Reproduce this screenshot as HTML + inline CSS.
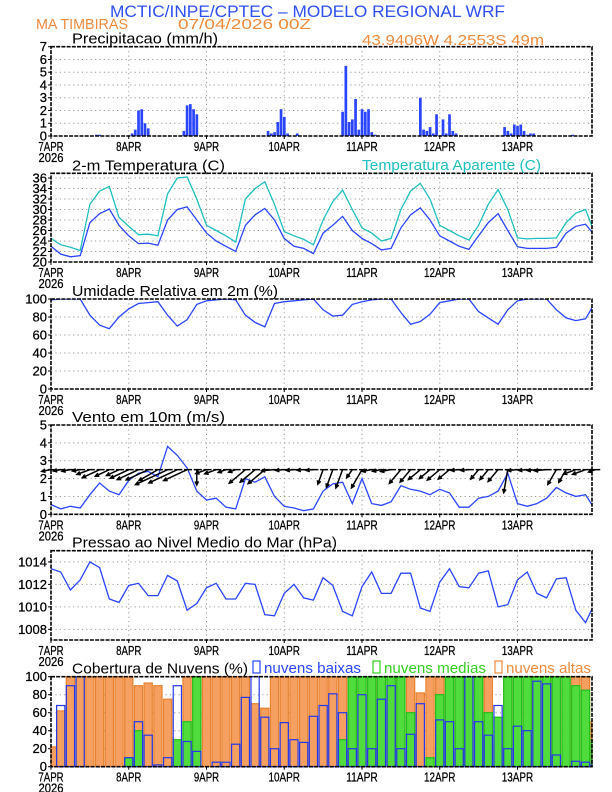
<!DOCTYPE html>
<html><head><meta charset="utf-8"><title>Meteograma WRF</title>
<style>
html,body{margin:0;padding:0;background:#fff;}
svg{display:block;font-family:"Liberation Sans",sans-serif;}
</style></head>
<body>
<svg id="chart" width="612" height="792" viewBox="0 0 612 792" xmlns="http://www.w3.org/2000/svg">
<rect x="0" y="0" width="612" height="792" fill="#fff"/>
<text x="110" y="17" font-size="17" fill="#2f4ff0" textLength="395" lengthAdjust="spacingAndGlyphs">MCTIC/INPE/CPTEC – MODELO REGIONAL WRF</text>
<text x="36" y="29" font-size="15" fill="#f08a3c" textLength="92" lengthAdjust="spacingAndGlyphs">MA TIMBIRAS</text>
<text x="178" y="29" font-size="15" fill="#f08a3c" textLength="133" lengthAdjust="spacingAndGlyphs">07/04/2026 00Z</text>
<text x="362" y="45" font-size="15" fill="#f08a3c" textLength="182" lengthAdjust="spacingAndGlyphs">43.9406W 4.2553S 49m</text>
<g id="plots"></g>
</svg>
<script>
// ---- data ----
const dayLabels = ["7APR","8APR","9APR","10APR","11APR","12APR","13APR"];
const precipHours = [14,15,25,26,27,28,29,30,41,42,43,44,45,67,68,69,70,71,72,73,76,90,91,92,93,94,95,96,97,98,99,100,114,115,116,117,118,119,121,122,123,124,125,140,141,142,143,144,145,146,147,148,149,161];
const precipVals  = [0.1,0.1,0.2,0.5,2.0,2.1,1.0,0.6,0.4,2.4,2.5,2.1,1.7,0.4,0.2,0.3,1.1,2.1,1.5,0.2,0.2,1.9,5.5,1.1,1.3,2.9,0.5,2.1,1.9,2.1,0.3,0.1,3.0,0.5,0.4,0.7,0.2,1.7,1.3,0.2,1.7,0.4,0.2,0.7,0.4,0.2,0.9,0.8,0.9,0.4,0.1,0.2,0.2,0.1];
const temp2m = [23,21.5,21.0,21.2,27.5,29.2,30.1,27,25,23.5,23.6,23.2,28,30,30.5,28,25.5,24,23,22,27,29,30.2,28,24.5,23,22.6,21.6,25.5,27,28.7,26,24.5,23.5,22.3,22.6,26.5,29,30.3,28,25,24,23,22.4,25,27.5,29.2,26,22.9,22.6,22.6,22.6,22.8,25.5,26.8,27.2,25,23.3];
const tempAparente = [24.5,23.3,22.8,22.2,31,33.5,34.4,28.5,26.8,25.2,25.3,25.0,33,36,36.2,32,27,26,25,23.8,32,34,35.3,31,25.8,25,24.3,23.3,28,31.5,33.7,30,26.5,25.5,24,24.5,30,33.5,35,32,27,26,25,24.2,27,31,33.8,30,24.6,24.4,24.5,24.5,24.6,27.5,29.3,30,25.3];
const umidade = [99,100,100,100,82,71,67,80,89,95,96,97,82,70,77,94,98,99,100,99,82,74,69,95,97,98,99,100,88,81,82,94,97,99,100,100,85,72,75,83,96,98,100,100,86,79,72,88,98,100,100,100,88,79,76,78,96];
const ventoVel = [0.55,0.3,0.45,0.35,1.1,1.75,1.3,1.1,1.9,2.3,2.4,2.1,3.8,3.3,2.6,1.3,0.8,0.9,0.4,0.3,2.0,1.8,2.1,1.0,0.45,0.35,0.2,0.3,1.3,1.7,1.8,0.6,2.0,0.6,0.5,0.7,1.6,1.4,1.3,1.1,1.4,1.2,0.4,0.4,0.9,1.0,1.3,2.3,0.6,0.45,0.6,0.9,1.5,1.2,1.0,1.1,0.25];
const ventoDir = [190,190,190,190,200,205,205,205,205,205,205,210,205,205,205,270,200,200,200,200,220,220,220,185,185,185,185,185,250,250,250,235,240,190,190,190,230,230,220,220,220,220,185,185,230,230,230,260,185,185,185,185,240,240,200,200,200];
const pressao = [1013.4,1013.1,1011.5,1012.4,1014,1013.5,1010.7,1010.4,1011.9,1012.1,1011,1011,1012.8,1012.3,1009.7,1010.3,1011.7,1012.1,1010.7,1010.7,1012.1,1012,1009.3,1009.2,1011.2,1012,1010.8,1010.6,1012.6,1011.9,1009.6,1009.2,1011.8,1013.1,1011.2,1011.2,1013,1013,1009.9,1009.6,1012.2,1013.4,1011.8,1011.7,1013,1013.2,1010,1010.2,1012.4,1013.1,1011.2,1010.8,1012.5,1012.6,1009.7,1008.6,1010.4];
const nuvensBaixas = [0,68,90,100,0,0,0,0,10,50,35,2,10,90,28,17,0,5,5,25,77,100,55,20,49,30,27,56,68,81,60,20,80,20,75,90,20,36,70,0,52,50,20,100,50,35,68,20,45,40,95,92,13,0,6,5,2];
const nuvensMedias = [0,0,0,0,0,0,0,0,10,40,0,0,0,30,50,100,0,0,0,0,0,0,0,0,0,0,0,0,0,0,30,100,100,100,100,100,100,60,0,10,80,100,100,100,100,60,55,100,100,100,100,100,100,100,90,85,30];
const nuvensAltas = [22,62,100,100,100,100,100,100,100,90,93,90,75,5,100,100,100,100,100,100,100,70,65,100,100,100,100,100,100,100,100,100,100,100,100,100,100,100,82,100,100,100,100,100,100,100,25,100,100,100,100,100,100,100,100,100,50];
const precipTicks = [0,1,2,3,4,5,6,7];
const tempTicks = [20,22,24,26,28,30,32,34,36];
const rhTicks = [0,20,40,60,80,100];
const windTicks = [0,1,2,3,4,5];
const presTicks = [1008,1010,1012,1014];
const cloudTicks = [0,20,40,60,80,100];
const STEP = 3; // hours between samples

// ---- helpers ----
const NS = "http://www.w3.org/2000/svg";
const root = document.getElementById("plots");
const X0 = 51, X1 = 592, HMAX = 167;
function xh(h){ return X0 + h*(X1-X0)/HMAX; }
function mk(tag, attrs, parent){
  const e = document.createElementNS(NS, tag);
  for (const k in attrs) e.setAttribute(k, attrs[k]);
  (parent||root).appendChild(e);
  return e;
}
function makeY(top,bot,min,max){ return v => top + (max-v)/(max-min)*(bot-top); }

function drawPanel(key, top, bot, min, max, ticks, title, titleLen){
  const g = mk("g", {});
  
  
  const y = makeY(top,bot,min,max);
  ticks.forEach(t => {
    if (t===min || t===max) return;
    const l = mk("line",{x1:X0,x2:X1,y1:y(t),y2:y(t),stroke:"#9a9a9a","stroke-width":1,"stroke-dasharray":"1.2,3.2"},g);
    
    
  });
  for (let d=1; d<7; d++){
    const l = mk("line",{x1:xh(d*24),x2:xh(d*24),y1:top,y2:bot,stroke:"#9a9a9a","stroke-width":1,"stroke-dasharray":"1.2,3.2"},g);
    
    
  }
  ticks.forEach(t => {
    const tx = mk("text",{x:X0-4,y:y(t)+4.5,"font-size":13,"text-anchor":"end",fill:"#000","stroke":"#000","stroke-width":0.25},g);
    tx.textContent = t;
    
    
    const tk = mk("line",{x1:X0-3,x2:X0,y1:y(t),y2:y(t),stroke:"#000","stroke-width":1},g);
    
    
  });
  dayLabels.forEach((lab,i) => {
    const tx = mk("text",{x:xh(i*24),y:bot+15,"font-size":13,"text-anchor":"middle",fill:"#000","stroke":"#000","stroke-width":0.25,textLength:lab.length*6.3,lengthAdjust:"spacingAndGlyphs"},g);
    tx.textContent = lab;
    
    
    const tk = mk("line",{x1:xh(i*24),x2:xh(i*24),y1:bot,y2:bot+3,stroke:"#000","stroke-width":1},g);
    
    
  });
  const yr = mk("text",{x:xh(0),y:bot+26,"font-size":13,"text-anchor":"middle",fill:"#000","stroke":"#000","stroke-width":0.25,textLength:25,lengthAdjust:"spacingAndGlyphs"},g);
  yr.textContent = "2026";
  
  
  const tt = mk("text",{x:72,y:top-3,"font-size":15,fill:"#000",textLength:titleLen,lengthAdjust:"spacingAndGlyphs"},g);
  tt.textContent = title;
  
  
  return {g, y, top, bot};
}
function frame(p, key){
  const r = mk("rect",{x:X0,y:p.top,width:X1-X0,height:p.bot-p.top,fill:"none",stroke:"#000","stroke-width":1.6,"stroke-dasharray":"4,1.2"},p.g);
  
  
}
function line(p, vals, color, key){
  const pts = vals.map((v,i)=> xh(i*STEP).toFixed(1)+","+p.y(v).toFixed(1)).join(" ");
  const cp = "clip-" + key;
  const cl = mk("clipPath",{id:cp},p.g);
  mk("rect",{x:X0,y:p.top,width:X1-X0,height:p.bot-p.top},cl);
  const pl = mk("polyline",{points:pts,fill:"none",stroke:color,"stroke-width":1.3,"clip-path":"url(#"+cp+")"},p.g);
  
  
}

// ---- panel 1: precipitation ----
const p1 = drawPanel("precip", 46.7, 136, 0, 7, precipTicks, "Precipitacao (mm/h)", 146);
precipHours.forEach((h,i) => {
  const v = precipVals[i];
  const b = mk("rect",{x:xh(h)-1.3,y:p1.y(v),width:2.7,height:p1.y(0)-p1.y(v),fill:"#2b45ff"},p1.g);
  
  
});
frame(p1,"precip");

// ---- panel 2: temperature ----
const p2 = drawPanel("temp", 173.3, 262, 20, 36.9, tempTicks, "2-m Temperatura (C)", 153);
line(p2, tempAparente, "#1fbfbf", "apparent-temp-line");
line(p2, temp2m, "#2b45ff", "temp-2m-line");
frame(p2,"temp");
const at = mk("text",{x:362,y:170,"font-size":15,fill:"#1fbfbf",textLength:179,lengthAdjust:"spacingAndGlyphs"},p2.g);
at.textContent = "Temperatura Aparente (C)";



// ---- panel 3: RH ----
const p3 = drawPanel("rh", 299, 389, 0, 100, rhTicks, "Umidade Relativa em 2m (%)", 206);
line(p3, umidade, "#2b45ff", "rh-line");
frame(p3,"rh");

// ---- panel 4: wind ----
const p4 = drawPanel("wind", 425, 514.3, 0, 5, windTicks, "Vento em 10m (m/s)", 153);
line(p4, ventoVel, "#2b45ff", "wind-speed-line");
ventoDir.forEach((d,i) => {
  const x0 = xh(i*STEP), y0 = p4.y(2.5);
  const len = 5 + ventoVel[i]*8;
  const a = d*Math.PI/180;
  const x1 = x0 + len*Math.cos(a), y1 = y0 - len*Math.sin(a);
  const ha = 0.45, hl = 4;
  const g = mk("g",{stroke:"#000","stroke-width":1.5,fill:"none"},p4.g);
  
  
  mk("line",{x1:x0,y1:y0,x2:x1,y2:y1},g);
  mk("polyline",{points:`${x1-hl*Math.cos(a-ha)},${y1+hl*Math.sin(a-ha)} ${x1},${y1} ${x1-hl*Math.cos(a+ha)},${y1+hl*Math.sin(a+ha)}`},g);
  mk("line",{x1:x0-3,y1:y0,x2:x0+5,y2:y0},g);
});
frame(p4,"wind");

// ---- panel 5: pressure ----
const p5 = drawPanel("pressure", 550.7, 640, 1007.05, 1015, presTicks, "Pressao ao Nivel Medio do Mar (hPa)", 265);
line(p5, pressao, "#2b45ff", "pressure-line");
frame(p5,"pressure");

// ---- panel 6: clouds ----
const p6 = drawPanel("cloud", 676.7, 766.7, 0, 100, cloudTicks, "Cobertura de Nuvens (%)", 176);
const bw = (xh(STEP)-xh(0)) - 1.5;
function bars(vals, fill, stroke, key){
  vals.forEach((v,i) => {
    if (v<=0) return;
    const x = xh(i*STEP) - bw/2;
    const b = mk("rect",{x:Math.max(X0,x),y:p6.y(v),width:Math.min(bw, X1-Math.max(X0,x)),height:p6.y(0)-p6.y(v),fill:fill,stroke:stroke,"stroke-width":1.2},p6.g);
    
    
  });
}
bars(nuvensAltas, "#f5a060", "#e8822e", "high-cloud-bar");
bars(nuvensMedias, "#4fdc3c", "#22c01a", "medium-cloud-bar");
bars(nuvensBaixas, "none", "#2438e8", "low-cloud-bar");
frame(p6,"cloud");
[["#2b45ff","nuvens baixas",253,97,"low-cloud-legend"],["#33d020","nuvens medias",373,102,"medium-cloud-legend"],["#f08a3c","nuvens altas",495,85,"high-cloud-legend"]].forEach(L => {
  const g = mk("g",{},p6.g);
  
  
  mk("rect",{x:L[2],y:661,width:7,height:12,fill:"none",stroke:L[0],"stroke-width":1.2},g);
  const t = mk("text",{x:L[2]+11,y:673,"font-size":15,fill:L[0],textLength:L[3],lengthAdjust:"spacingAndGlyphs"},g);
  t.textContent = L[1];
});
</script>
</body></html>
